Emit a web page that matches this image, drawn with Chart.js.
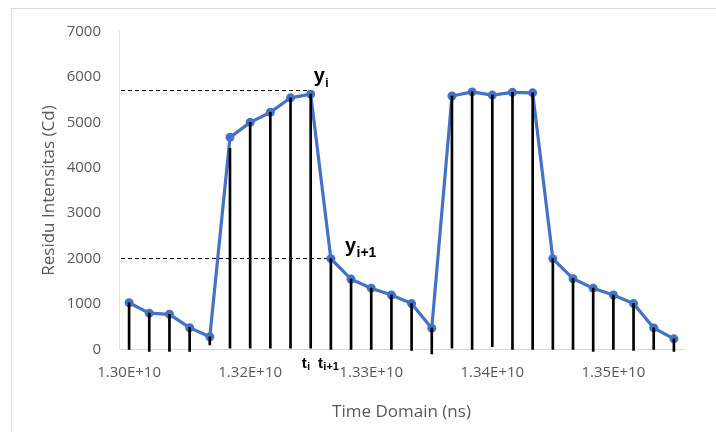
<!DOCTYPE html>
<html>
<head>
<meta charset="utf-8">
<script src="https://cdn.jsdelivr.net/npm/chart.js@4.4.1/dist/chart.umd.min.js"></script>
<style>
  html, body { margin: 0; padding: 0; background: #ffffff; }
  #wrap { width: 716px; height: 432px; position: relative; }
</style>
</head>
<body>
<div id="wrap"><canvas id="c" width="716" height="432"></canvas></div>
<script>
// Sampling instants on the time axis (ns)
const timeNs = [
  1.3032e10, 1.3053e10, 1.3074e10, 1.3095e10, 1.3116e10, 1.3137e10, 1.3158e10,
  1.3179e10, 1.3200e10, 1.3221e10, 1.3242e10, 1.3263e10, 1.3284e10, 1.3305e10,
  1.3326e10, 1.3347e10, 1.3368e10, 1.3389e10, 1.3410e10, 1.3431e10, 1.3452e10,
  1.3473e10, 1.3494e10, 1.3515e10, 1.3536e10, 1.3557e10, 1.3578e10, 1.3599e10
];

// Residual intensity at each instant (Cd)
const intensity = [
  1030, 800, 775, 480, 280, 4670, 5000, 5220, 5540, 5620,
  2000, 1550, 1350, 1200, 1010, 470,
  5580, 5670, 5600, 5660, 5650,
  2000, 1560, 1350, 1200, 1010, 475, 235
];

// Drop lines under the samples: upper and lower ends (Cd)
const dropTop = [
  1030, 800, 775, 480, 280, 4430, 5000, 5220, 5540, 5620,
  2000, 1550, 1350, 1200, 1010, 470,
  5580, 5670, 5600, 5660, 5650,
  2000, 1560, 1350, 1200, 1010, 475, 235
];
const dropBase = [
  0, -40, -40, -40, 100, 30, 30, 30, 30, 30,
  0, 0, 0, 0, -20, -100,
  30, 0, 60, 0, 0,
  0, 0, -40, 0, -20, 0, -40
];

// Value-axis ticks and category label spacing
const yTicks = [0, 1000, 2000, 3000, 4000, 5000, 6000, 7000];
const labelEvery = 6;

// Marked samples y_i / y_(i+1) and their guide levels (Cd)
const markIndex = [9, 10];
const guideLevels = [5700, 2000];

const categories = timeNs.map(v => v.toExponential(2).toUpperCase());

const BLUE = '#4472C4';
const GREY = '#595959';
const TICK_FONT = { family: '"Open Sans", "DejaVu Sans", sans-serif', size: 15 };
const TITLE_FONT = { family: '"Open Sans", "DejaVu Sans", sans-serif', size: 17 };
const ANN_FAMILY = '"Liberation Sans", Arial, sans-serif';

// White page with a thin frame around the chart area
const framePlugin = {
  id: 'frame',
  beforeDraw(chart) {
    const ctx = chart.ctx;
    ctx.save();
    ctx.fillStyle = '#ffffff';
    ctx.fillRect(0, 0, chart.width, chart.height);
    ctx.strokeStyle = '#d9d9d9';
    ctx.lineWidth = 1;
    ctx.strokeRect(11.5, 8.5, chart.width + 20, chart.height + 20);
    ctx.restore();
  }
};

// Dashed guides from the value axis to the marked samples
const guidePlugin = {
  id: 'guides',
  beforeDatasetsDraw(chart) {
    const { ctx, chartArea, scales: { x, y } } = chart;
    ctx.save();
    ctx.strokeStyle = '#000000';
    ctx.lineWidth = 1;
    ctx.setLineDash([4, 3]);
    markIndex.forEach((idx, k) => {
      const py = Math.floor(y.getPixelForValue(guideLevels[k])) + 0.5;
      ctx.beginPath();
      ctx.moveTo(chartArea.left + 2, py);
      ctx.lineTo(x.getPixelForValue(idx), py);
      ctx.stroke();
    });
    ctx.restore();
  }
};

// Bold symbol with a subscript
function symbol(ctx, main, sub, x, base, mainSize, subSize, subDrop) {
  ctx.font = 'bold ' + mainSize + 'px ' + ANN_FAMILY;
  ctx.fillText(main, x, base);
  const w = ctx.measureText(main).width;
  ctx.font = 'bold ' + subSize + 'px ' + ANN_FAMILY;
  ctx.fillText(sub, x + w + 0.5, base + subDrop);
}

const symbolPlugin = {
  id: 'symbols',
  afterDraw(chart) {
    const { ctx, chartArea, scales: { x, y } } = chart;
    ctx.save();
    ctx.fillStyle = '#000000';
    ctx.textAlign = 'left';
    ctx.textBaseline = 'alphabetic';
    const i0 = markIndex[0], i1 = markIndex[1];
    const p0x = x.getPixelForValue(i0), p0y = y.getPixelForValue(intensity[i0]);
    const p1x = x.getPixelForValue(i1), p1y = y.getPixelForValue(intensity[i1]);
    symbol(ctx, 'y', 'i', p0x + 3, p0y - 12, 20, 12, 5);
    symbol(ctx, 'y', 'i+1', p1x + 14, p1y - 6.5, 20, 14, 5);
    const tBase = chartArea.bottom + 18;
    symbol(ctx, 't', 'i', p0x - 9, tBase, 15, 10, 2.5);
    symbol(ctx, 't', 'i+1', p1x - 13, tBase, 15, 11, 2.5);
    ctx.restore();
  }
};

new Chart(document.getElementById('c'), {
  data: {
    labels: categories,
    datasets: [
      {
        type: 'bar',
        label: 'drop',
        data: dropBase.map((b, i) => [b, dropTop[i]]),
        backgroundColor: '#000000',
        borderWidth: 0,
        barThickness: 2,
        clip: 10,
        order: 0
      },
      {
        type: 'line',
        label: 'Residu Intensitas',
        data: intensity,
        borderColor: BLUE,
        backgroundColor: BLUE,
        borderWidth: 3.2,
        tension: 0,
        pointRadius: 4.5,
        pointBackgroundColor: BLUE,
        pointBorderWidth: 0,
        fill: false,
        order: 1
      }
    ]
  },
  options: {
    responsive: false,
    animation: false,
    events: [],
    layout: { padding: { left: 30, top: 31.5, right: 32, bottom: 10 } },
    plugins: {
      legend: { display: false },
      tooltip: { enabled: false },
      title: { display: false }
    },
    scales: {
      x: {
        type: 'category',
        offset: true,
        grid: { display: false, drawTicks: false },
        border: { display: true, color: '#d9d9d9', width: 1 },
        ticks: {
          autoSkip: false,
          maxRotation: 0,
          minRotation: 0,
          padding: 14,
          color: GREY,
          font: TICK_FONT,
          callback(value, index) {
            return index % labelEvery === 0 ? this.getLabelForValue(value) : '';
          }
        },
        title: {
          display: true,
          text: 'Time Domain (ns)',
          color: GREY,
          font: TITLE_FONT,
          padding: { top: 12, bottom: 0 }
        },
        afterFit(scale) { scale.height = 72.5; }
      },
      y: {
        type: 'linear',
        min: 0,
        max: 7000,
        afterBuildTicks(scale) { scale.ticks = yTicks.map(v => ({ value: v })); },
        grid: { display: false, drawTicks: false },
        border: { display: true, color: '#e3e3e3', width: 1 },
        ticks: {
          padding: 18,
          color: GREY,
          font: TICK_FONT,
          callback(value) { return String(value); }
        },
        title: {
          display: true,
          text: 'Residu Intensitas (Cd)',
          color: GREY,
          font: TITLE_FONT,
          padding: { top: 9, bottom: 0 }
        },
        afterFit(scale) { scale.width = 89; }
      }
    }
  },
  plugins: [framePlugin, guidePlugin, symbolPlugin]
});
</script>
</body>
</html>
